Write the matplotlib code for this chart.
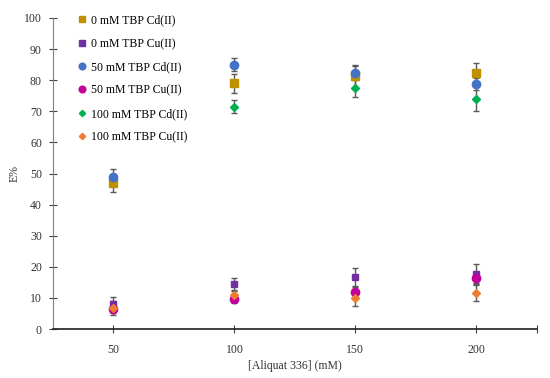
import numpy as np
from matplotlib import pyplot as plt

plt.rcParams["font.family"] = ["Liberation Serif", "DejaVu Serif"]

aliquat = [50, 100, 150, 200]

labels = [
    "0 mM TBP Cd(II)",
    "0 mM TBP Cu(II)",
    "50 mM TBP Cd(II)",
    "50 mM TBP Cu(II)",
    "100 mM TBP Cd(II)",
    "100 mM TBP Cu(II)",
]
cd_0 = [47.0, 79.0, 81.3, 82.3]
cd_0_err = [3.0, 3.0, 3.5, 3.2]
cu_0 = [8.0, 14.5, 16.7, 17.7]
cu_0_err = [2.3, 2.0, 2.8, 3.2]
cd_50 = [49.0, 85.0, 82.3, 78.8]
cd_50_err = [2.5, 2.0, 2.2, 2.0]
cu_50 = [6.5, 9.5, 11.9, 16.4]
cu_50_err = [1.5, 1.0, 1.5, 1.5]
cd_100 = [np.nan, 71.5, 77.5, 74.0]
cd_100_err = [0.0, 2.2, 3.0, 3.8]
cu_100 = [6.8, 10.8, 10.0, 11.6]
cu_100_err = [2.3, 1.5, 2.6, 2.6]

series = [cd_0, cu_0, cd_50, cu_50, cd_100, cu_100]
errors = [cd_0_err, cu_0_err, cd_50_err, cu_50_err, cd_100_err, cu_100_err]
colors = ["#BF9000", "#7030A0", "#4472C4", "#C00099", "#00B050", "#ED7D31"]
markers = ["s", "s", "o", "o", "D", "D"]
sizes = [6, 5, 6, 6, 4, 4]

fig = plt.figure(figsize=(5.5, 3.78), dpi=100)
ax = fig.add_axes([0.0964, 0.1296, 0.8796, 0.8228])

for y, e, c, m, s, lab in zip(series, errors, colors, markers, sizes, labels):
    ax.errorbar(aliquat, y, yerr=e, fmt=m, color=c, ms=s, mec=c,
                ecolor="#595959", elinewidth=1.0, capsize=2.5, capthick=1.0,
                label=lab)

ax.set_xlim(25, 225)
ax.set_ylim(0, 100)
ax.set_xticks([50, 100, 150, 200, 225], ["50", "100", "150", "200", ""])
ax.set_yticks(np.arange(0, 101, 10))
ax.tick_params(axis="both", direction="inout", length=6, width=0.8,
               labelsize=8.5, colors="#404040", labelcolor="#333333")
ax.tick_params(axis="x", pad=8)
ax.tick_params(axis="y", pad=5)
for side in ["top", "right"]:
    ax.spines[side].set_visible(False)
ax.spines["left"].set_color("#808080")
ax.spines["bottom"].set_color("#202020")
ax.spines["bottom"].set_linewidth(1.2)

ax.set_xlabel("[Aliquat 336] (mM)", fontsize=8.5, color="#333333", labelpad=3)
ax.set_ylabel("E%", fontsize=8.5, color="#333333")
ax.yaxis.set_label_coords(-0.068, 0.5)

handles, labs = ax.get_legend_handles_labels()
handles = [h[0] for h in handles]
ax.legend(handles, labs, loc="upper left", bbox_to_anchor=(0.03, 1.045),
          frameon=False, fontsize=8.5, labelspacing=0.96, handlelength=0.6,
          handletextpad=0.5, markerscale=0.8)

plt.savefig("out.png", dpi=100)
